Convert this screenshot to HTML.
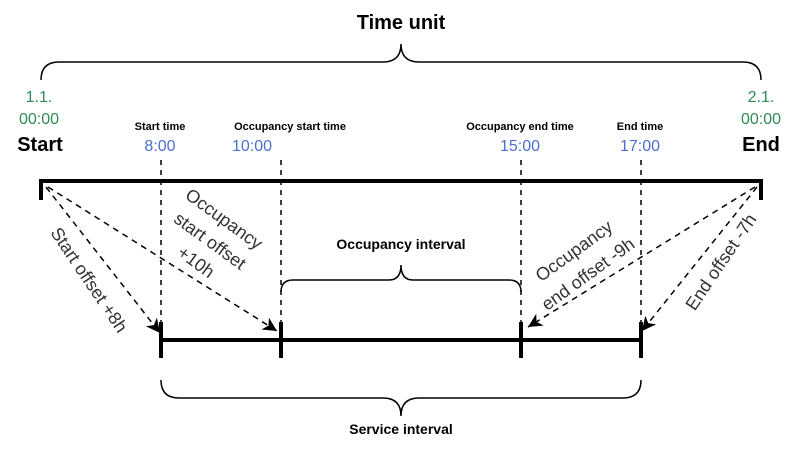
<!DOCTYPE html>
<html><head><meta charset="utf-8"><style>body{margin:0;background:#fff}</style></head><body>
<svg width="802" height="448" viewBox="0 0 802 448" xmlns="http://www.w3.org/2000/svg" font-family="Liberation Sans, Arial, sans-serif">
<defs><marker id="a" markerWidth="16" markerHeight="16" refX="14" refY="7" orient="auto" markerUnits="userSpaceOnUse"><path d="M0,0 L14,7 L0,14 L4,7 z" fill="#000"/></marker></defs>
<text x="401" y="29" text-anchor="middle" font-size="20" font-weight="bold">Time unit</text>
<path d="M41,80 Q41,62 59,62 L383,62 Q401,62 401,44 Q401,62 419,62 L743,62 Q761,62 761,80" fill="none" stroke="#000" stroke-width="1.5"/>
<g fill="#2e8b57" font-size="16" text-anchor="middle"><text x="39" y="102">1.1.</text><text x="39" y="124">00:00</text><text x="761" y="102">2.1.</text><text x="761" y="124">00:00</text></g>
<g font-size="20" font-weight="bold" text-anchor="middle"><text x="40" y="151">Start</text><text x="761" y="151">End</text></g>
<g font-size="11" font-weight="bold" text-anchor="middle"><text x="160" y="130">Start time</text><text x="290" y="130">Occupancy start time</text><text x="520" y="130">Occupancy end time</text><text x="640" y="130">End time</text></g>
<g font-size="16" fill="#4a6fd0" text-anchor="middle"><text x="160" y="151">8:00</text><text x="252" y="151">10:00</text><text x="520" y="151">15:00</text><text x="640" y="151">17:00</text></g>
<g stroke="#000" stroke-width="4" fill="none"><path d="M41,200 L41,181 L761,181 L761,200"/><path d="M161,340 L641,340"/><path d="M161,322V358M281,322V358M521,322V358M641,322V358"/></g>
<g stroke="#000" stroke-width="1.5" stroke-dasharray="5,5"><path d="M161,160V322M281,160V322M521,160V322M641,160V322"/></g>
<g stroke="#000" stroke-width="1.5" stroke-dasharray="6,5" fill="none" marker-end="url(#a)"><path d="M46,187 L160,333"/><path d="M48,187 L277,331"/><path d="M755,187 L528,327"/><path d="M757,187 L642,331"/></g>
<path d="M281,292 Q281,280 293,280 L389,280 Q401,280 401,265 Q401,280 413,280 L509,280 Q521,280 521,292" fill="none" stroke="#000" stroke-width="1.5"/>
<text x="401" y="249" text-anchor="middle" font-size="14" font-weight="bold">Occupancy interval</text>
<path d="M161,380 Q161,398 179,398 L383,398 Q401,398 401,416 Q401,398 419,398 L623,398 Q641,398 641,380" fill="none" stroke="#000" stroke-width="1.5"/>
<text x="401" y="434" text-anchor="middle" font-size="14" font-weight="bold">Service interval</text>
<g font-size="18" fill="#333" text-anchor="middle" dominant-baseline="central">
<text transform="translate(89,280) rotate(56)">Start offset +8h</text>
<text transform="translate(224,219) rotate(36)">Occupancy</text>
<text transform="translate(210,241) rotate(36)">start offset</text>
<text transform="translate(196,262) rotate(36)">+10h</text>
<text transform="translate(574,251) rotate(-36)">Occupancy</text>
<text transform="translate(588,274) rotate(-36)">end offset -9h</text>
<text transform="translate(721,262) rotate(-56)">End offset -7h</text>
</g>
</svg>
</body></html>
